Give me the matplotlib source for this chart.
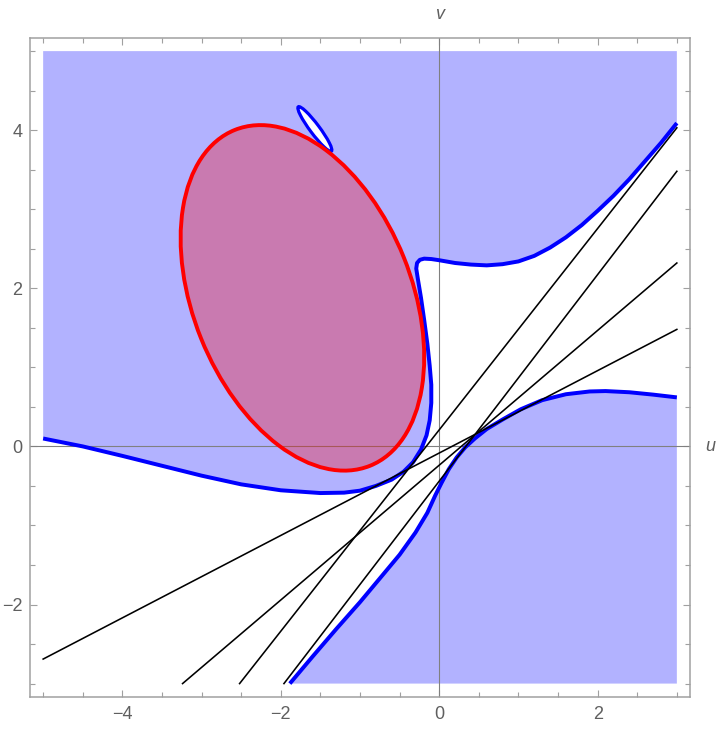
import numpy as np
import matplotlib.pyplot as plt
from matplotlib.patches import Ellipse, Polygon
from matplotlib.ticker import FixedLocator

# upper-left shaded region boundary (blue curve)
upper_u = [-5.0, -4.5, -4.0, -3.5, -3.0, -2.5, -2.0, -1.5, -1.2, -1.0, -0.8, -0.6,
           -0.45, -0.33, -0.23, -0.16, -0.12, -0.10, -0.10, -0.12, -0.15, -0.19, -0.23,
           -0.27, -0.29, -0.28, -0.245, -0.19, -0.10, 0.0, 0.2, 0.4, 0.6, 0.8, 1.0,
           1.2, 1.4, 1.6, 1.8, 2.0, 2.2, 2.4, 2.6, 2.8, 3.0]
upper_v = [0.10, 0.0, -0.12, -0.245, -0.37, -0.48, -0.555, -0.59, -0.585, -0.56, -0.50, -0.42,
           -0.32, -0.20, -0.04, 0.14, 0.33, 0.55, 0.78, 1.02, 1.30, 1.60, 1.88,
           2.12, 2.25, 2.32, 2.36, 2.375, 2.37, 2.355, 2.32, 2.30, 2.29, 2.305, 2.34,
           2.41, 2.515, 2.645, 2.80, 2.98, 3.17, 3.38, 3.61, 3.84, 4.09]

# lower-right shaded region boundary
lower_u = [-1.886, -1.6, -1.3, -1.0, -0.75, -0.5, -0.3, -0.15, -0.05, 0.03, 0.12, 0.22,
           0.33, 0.45, 0.6, 0.8, 1.03, 1.3, 1.6, 1.9, 2.1, 2.4, 2.7, 3.0]
lower_v = [-3.0, -2.66, -2.31, -1.97, -1.67, -1.37, -1.09, -0.84, -0.62, -0.46, -0.29, -0.14,
           -0.01, 0.10, 0.22, 0.34, 0.47, 0.585, 0.66, 0.695, 0.70, 0.685, 0.655, 0.62]

# red ellipse (center, full axes, angle of major axis in degrees)
red_center = (-1.727, 1.879)
red_major, red_minor, red_angle = 4.578, 2.757, -68.12

# small closed loop
loop_center = (-1.57, 4.015)
loop_length, loop_thick, loop_angle = 0.70, 0.12, -53.3

# black straight lines: (u0, v0, u1, v1)
lines = [(-2.52, -3.0, 3.0, 4.03),
         (-1.96, -3.0, 3.0, 3.48),
         (-3.24, -3.0, 3.0, 2.32),
         (-5.0, -2.69, 3.0, 1.48)]

u_min, u_max, v_min, v_max = -5, 3, -3, 5

fig = plt.figure(figsize=(7.2, 7.32), dpi=100)
ax = fig.add_axes([30/720, 35.3/732, 660/720, 658.7/732])
pad = 0.166
ax.set_xlim(u_min - pad, u_max + pad)
ax.set_ylim(v_min - pad, v_max + pad)

blue_fill = '#B2B2FF'
up_poly = list(zip(upper_u, upper_v)) + [(u_max, v_max), (u_min, v_max)]
lo_poly = list(zip(lower_u, lower_v)) + [(u_max, v_min)]
ax.add_patch(Polygon(up_poly, closed=True, fc=blue_fill, ec='none', zorder=1))
ax.add_patch(Polygon(lo_poly, closed=True, fc=blue_fill, ec='none', zorder=1))

# axes through the origin
ax.axhline(0, color='#808080', lw=0.8, zorder=2)
ax.axvline(0, color='#808080', lw=0.8, zorder=2)

ax.plot(upper_u, upper_v, color='#0000FF', lw=2.85, zorder=4, solid_capstyle='butt',
        solid_joinstyle='round')
ax.plot(lower_u, lower_v, color='#0000FF', lw=2.85, zorder=4, solid_capstyle='butt',
        solid_joinstyle='round')
ax.add_patch(Ellipse(loop_center, loop_length, loop_thick, angle=loop_angle,
                     fc='white', ec='#0000FF', lw=2.3, zorder=4))

ax.add_patch(Ellipse(red_center, red_major, red_minor, angle=red_angle,
                     fc=(1, 0, 0, 0.31), ec='#FF0000', lw=2.8, zorder=5))

for u0, v0, u1, v1 in lines:
    ax.plot([u0, u1], [v0, v1], color='black', lw=1.15, zorder=6)

frame_c = '#A0A0A0'
lab_c = '#5F5F5F'
for s in ax.spines.values():
    s.set_color(frame_c)
    s.set_linewidth(1.1)
ax.xaxis.set_major_locator(FixedLocator([-4, -2, 0, 2]))
ax.yaxis.set_major_locator(FixedLocator([-2, 0, 2, 4]))
ax.xaxis.set_minor_locator(FixedLocator([t for t in np.arange(-5, 3.01, 0.5) if t not in (-4, -2, 0, 2)]))
ax.yaxis.set_minor_locator(FixedLocator([t for t in np.arange(-3, 5.01, 0.5) if t not in (-2, 0, 2, 4)]))
ax.tick_params(which='both', direction='in', top=True, right=True, color=frame_c, width=0.8)
ax.tick_params(which='major', length=5.2, labelsize=13, labelcolor=lab_c)
ax.tick_params(which='minor', length=3.4)
ax.tick_params(axis='x', pad=7)
ax.tick_params(axis='y', pad=5.5)
for t in ax.get_xticklabels() + ax.get_yticklabels():
    t.set_fontfamily('Liberation Sans')

ax.text(0, 1.035, 'v', transform=ax.get_xaxis_transform(), ha='center', va='center',
        fontsize=13, color=lab_c, style='italic', family='Liberation Sans')
ax.text(1.03, 0, 'u', transform=ax.get_yaxis_transform(), ha='center', va='center',
        fontsize=13, color=lab_c, style='italic', family='Liberation Sans')

fig.savefig('out.png', dpi=100)
